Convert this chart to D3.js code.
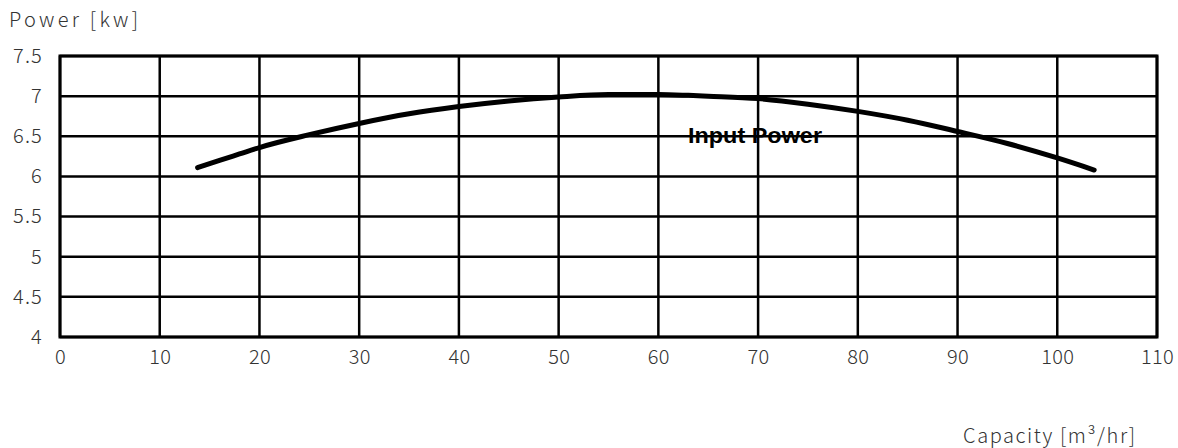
<!DOCTYPE html>
<html><head><meta charset="utf-8">
<script src="https://cdn.jsdelivr.net/npm/d3@7/dist/d3.min.js"></script>
<style>
html,body{margin:0;padding:0;background:#fff;}
svg{display:block;}
text{font-family:"Noto Sans CJK KR","Liberation Sans",sans-serif;font-weight:300;fill:#333;}
</style></head>
<body>
<script>
// Data
const capacity = [13.8, 16, 18, 20, 25, 30, 35, 40, 45, 50, 55, 60, 63, 65, 70, 75, 80, 85, 90, 95, 100, 103.7];
const power    = [6.11, 6.20, 6.28, 6.36, 6.52, 6.66, 6.78, 6.87, 6.94, 6.99, 7.02, 7.02, 7.01, 7.00, 6.97, 6.90, 6.81, 6.70, 6.56, 6.41, 6.23, 6.08];
const xTicks = [0, 10, 20, 30, 40, 50, 60, 70, 80, 90, 100, 110];
const yTicks = [4, 4.5, 5, 5.5, 6, 6.5, 7, 7.5];
const seriesName = "Input Power";
const yTitle = "Power [kw]";
const xTitle = "Capacity [m³/hr]";

const W = 1178, H = 448;
const m = {left: 60, right: 21, top: 56, bottom: 111};
const svg = d3.select("body").append("svg").attr("width", W).attr("height", H);

const x = d3.scaleLinear().domain([0, 110]).range([m.left, W - m.right]);
const y = d3.scaleLinear().domain([4, 7.5]).range([H - m.bottom, m.top]);

// grid
svg.append("g").selectAll("line.v").data(xTicks).join("line")
  .attr("x1", d => x(d)).attr("x2", d => x(d))
  .attr("y1", y(7.5)).attr("y2", y(4))
  .attr("stroke", "#000").attr("stroke-width", 2.5);
svg.append("g").selectAll("line.h").data(yTicks).join("line")
  .attr("x1", x(0)).attr("x2", x(110))
  .attr("y1", d => y(d)).attr("y2", d => y(d))
  .attr("stroke", "#000").attr("stroke-width", 2.5);
svg.append("rect")
  .attr("x", x(0)).attr("y", y(7.5))
  .attr("width", x(110) - x(0)).attr("height", y(4) - y(7.5))
  .attr("fill", "none").attr("stroke", "#000").attr("stroke-width", 3);

// axes labels via d3 axes (lines hidden)
const xAxis = svg.append("g").attr("transform", `translate(0,${y(4)})`)
  .call(d3.axisBottom(x).tickValues(xTicks).tickSize(0).tickPadding(13).tickFormat(d3.format("d")));
xAxis.select(".domain").remove();
xAxis.selectAll("text").style("font-size", "20px").style("letter-spacing", "0.3px").attr("fill", "#333");

const yAxis = svg.append("g").attr("transform", `translate(${x(0)},0)`)
  .call(d3.axisLeft(y).tickValues(yTicks).tickSize(0).tickPadding(17).tickFormat(d => String(d)));
yAxis.select(".domain").remove();
yAxis.selectAll("text").style("font-size", "20px").style("letter-spacing", "1.2px").attr("fill", "#333");

// titles
svg.append("text").attr("x", 9).attr("y", 27).style("font-size", "20px")
  .attr("textLength", 129).attr("lengthAdjust", "spacing")
  .text(yTitle);
svg.append("text").attr("x", 963).attr("y", 443).style("font-size", "20px")
  .attr("textLength", 172).attr("lengthAdjust", "spacing")
  .text(xTitle);

// curve
const line = d3.line().x((d, i) => x(capacity[i])).y(d => y(d)).curve(d3.curveMonotoneX);
svg.append("path").datum(power)
  .attr("d", line).attr("fill", "none").attr("stroke", "#000")
  .attr("stroke-width", 5).attr("stroke-linecap", "round").attr("stroke-linejoin", "round");

// series label
svg.append("text").attr("x", 688).attr("y", 143)
  .attr("textLength", 134).attr("lengthAdjust", "spacingAndGlyphs")
  .style("font-family", "'Liberation Sans', Arial, sans-serif")
  .style("font-weight", "bold").style("font-size", "22px").style("fill", "#000")
  .text(seriesName);
</script>
</body></html>
